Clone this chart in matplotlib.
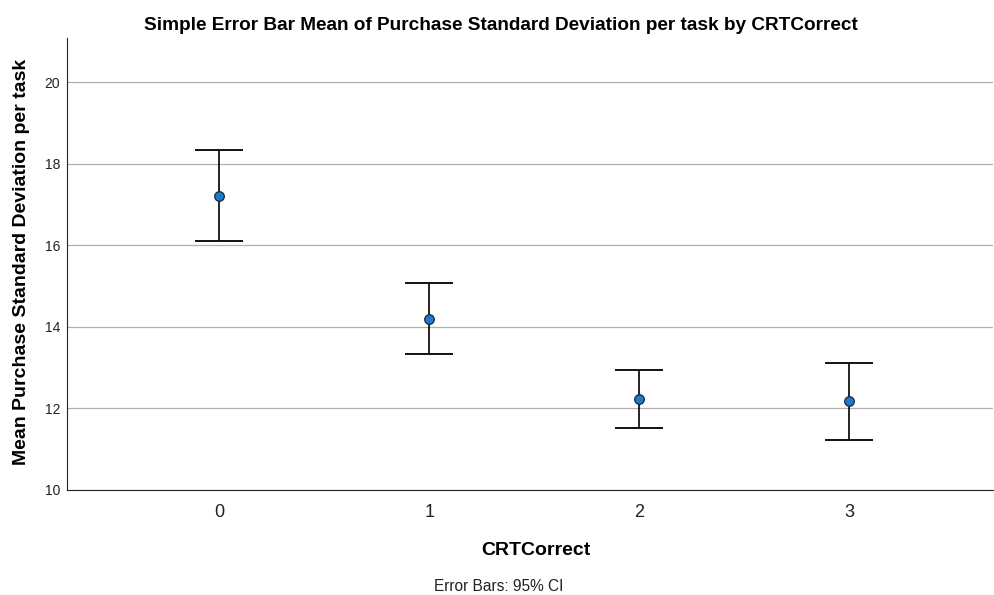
import matplotlib.pyplot as plt
import numpy as np

# Data
categories = ["0", "1", "2", "3"]
means = [17.21, 14.19, 12.23, 12.18]
ci_upper = [18.33, 15.07, 12.94, 13.11]
ci_lower = [16.10, 13.33, 11.52, 11.23]

plt.rcParams['font.family'] = ['Liberation Sans', 'DejaVu Sans']

fig = plt.figure(figsize=(9.94, 5.95), dpi=100)
ax = fig.add_axes([0.0674, 0.1765, 0.932, 0.7595])

x = np.arange(len(categories))
means_arr = np.array(means)
yerr = [means_arr - np.array(ci_lower), np.array(ci_upper) - means_arr]

ax.errorbar(x, means, yerr=yerr, fmt='none', ecolor='black', elinewidth=1.2,
            capsize=17, capthick=1.3, zorder=3)
ax.scatter(x, means, s=48, color='#1f78c8', edgecolor='#1a2a3a', linewidth=0.9, zorder=4)

ax.set_xlim(-0.724, 3.686)
ax.set_ylim(10, 21.08)
ax.set_yticks([10, 12, 14, 16, 18, 20])
ax.set_xticks(x)
ax.set_xticklabels(categories)
ax.tick_params(axis='x', length=0, labelsize=13, pad=10, colors='#222222')
ax.tick_params(axis='y', length=0, labelsize=10, pad=5, colors='#222222')
ax.grid(True, axis='y', color='#b0b0b0', linewidth=0.9)
ax.set_axisbelow(True)

for side in ['top', 'right']:
    ax.spines[side].set_visible(False)
ax.spines['left'].set_color('#222222')
ax.spines['bottom'].set_color('#222222')

fig.text(0.504, 0.957, "Simple Error Bar Mean of Purchase Standard Deviation per task by CRTCorrect",
         ha='center', va='center', fontsize=13.7, fontweight='bold')
ax.set_xlabel("CRTCorrect", fontsize=14, fontweight='bold')
ax.xaxis.set_label_coords(0.506, -0.116)
ax.set_ylabel("Mean Purchase Standard Deviation per task", fontsize=14, fontweight='bold')
ax.yaxis.set_label_coords(-0.040, 0.5055)
fig.text(0.5015, 0.0135, "Error Bars: 95% CI", ha='center', va='center', fontsize=11.2, color='#222222')

fig.savefig("out.png", dpi=100)
